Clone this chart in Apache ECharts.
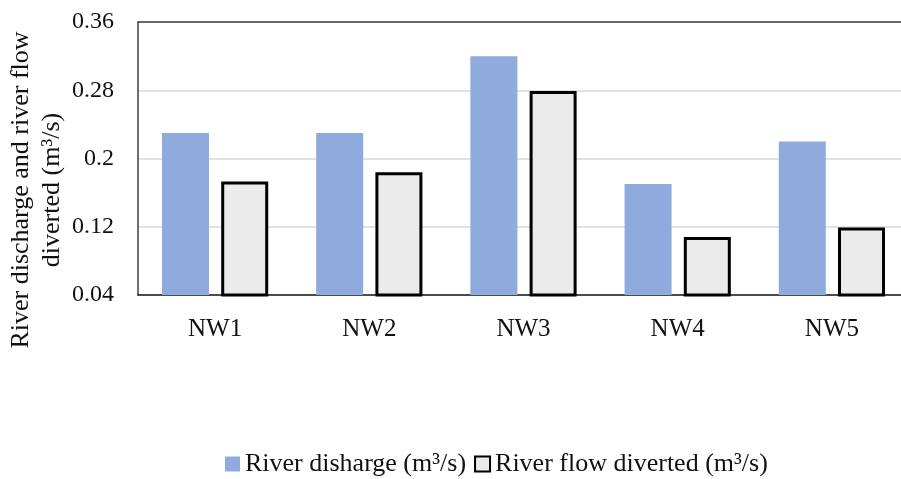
<!DOCTYPE html>
<html>
<head>
<meta charset="utf-8">
<script src="https://cdn.jsdelivr.net/npm/echarts@6/dist/echarts.min.js"></script>
<style>html,body{margin:0;padding:0;background:#fff;overflow:hidden;}#c{width:901px;height:479px;}</style>
</head>
<body>
<div id="c"></div>
<script>
var categories = ['NW1', 'NW2', 'NW3', 'NW4', 'NW5'];
var riverDischarge = [0.23, 0.23, 0.32, 0.17, 0.22];
var flowDiverted = [0.173, 0.184, 0.279, 0.108, 0.119];
var seriesNames = ['River disharge (m³/s)', 'River flow diverted (m³/s)'];
var yTitle = 'River discharge and river flow\ndiverted (m³/s)';

var FONT = '"Liberation Serif", "DejaVu Serif", serif';
var chart = echarts.init(document.getElementById('c'), null, {renderer: 'canvas'});
chart.setOption({
  backgroundColor: '#ffffff',
  animation: false,
  grid: {left: 138, top: 22, right: -8, bottom: 184, show: false, containLabel: false, outerBoundsMode: 'none'},
  xAxis: [{
    type: 'category',
    data: categories,
    axisLine: {show: true, lineStyle: {color: '#1a1a1a', width: 1.5}},
    axisTick: {show: false},
    axisLabel: {color: '#111', fontFamily: FONT, fontSize: 25, margin: 22}
  }, {
    type: 'category',
    position: 'top',
    data: categories,
    axisLine: {show: true, lineStyle: {color: '#404040', width: 1.5}},
    axisTick: {show: false},
    axisLabel: {show: false}
  }],
  yAxis: {
    type: 'value',
    min: 0.04,
    max: 0.36,
    interval: 0.08,
    axisLine: {show: true, lineStyle: {color: '#404040', width: 1.5}},
    axisTick: {show: false},
    axisLabel: {color: '#111', fontFamily: FONT, fontSize: 24, margin: 24},
    splitLine: {show: true, lineStyle: {color: '#d9d9d9', width: 1.5}}
  },
  legend: {
    left: 220,
    top: 446,
    itemWidth: 15,
    itemHeight: 15,
    itemGap: 8,
    textStyle: {color: '#111', fontFamily: FONT, fontSize: 26},
    data: [
      {name: seriesNames[0], icon: 'rect'},
      {name: seriesNames[1], icon: 'rect', itemStyle: {borderWidth: 2, borderColor: '#000'}}
    ]
  },
  graphic: [{
    type: 'text',
    x: 37,
    y: 190,
    rotation: Math.PI / 2,
    style: {
      text: yTitle,
      fontFamily: FONT,
      fontSize: 26,
      lineHeight: 31,
      fill: '#111',
      textAlign: 'center',
      textVerticalAlign: 'middle'
    }
  }],
  series: [
    {
      name: seriesNames[0],
      type: 'bar',
      data: riverDischarge,
      barWidth: 47,
      barGap: '26%',
      itemStyle: {color: '#8faadc'}
    },
    {
      name: seriesNames[1],
      type: 'bar',
      data: flowDiverted,
      barWidth: 47,
      barGap: '26%',
      itemStyle: {color: '#ebebeb', borderColor: '#000', borderWidth: 3}
    }
  ]
});
</script>
</body>
</html>
